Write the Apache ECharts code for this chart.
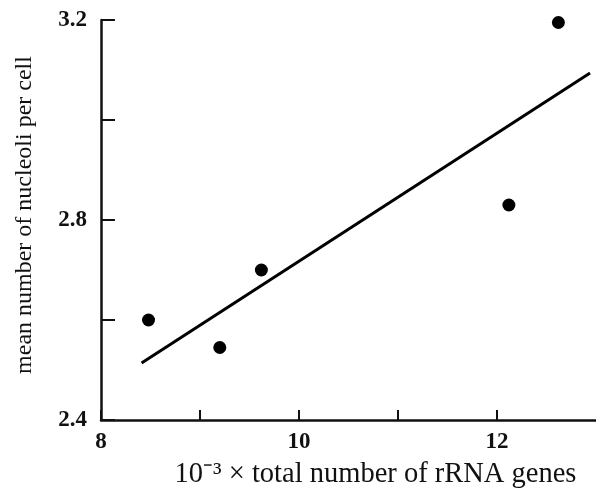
<!DOCTYPE html>
<html>
<head>
<meta charset="utf-8">
<script src="https://cdn.jsdelivr.net/npm/echarts@6/dist/echarts.min.js"></script>
<style>
  html, body { margin: 0; padding: 0; background: #fff; }
</style>
</head>
<body>
<div id="chart" style="width: 596px;height: 489px;"></div>
<script>
// rRNA genes (x 10^-3) vs mean nucleoli per cell
var genes = [8.48, 9.2, 9.62, 12.12, 12.62]
var nucleoli = [2.6, 2.545, 2.7, 2.83, 3.195]
// regression line end points
var fitX = [8.41, 12.94]
var fitY = [2.514, 3.094]
var xTicks = [8, 9, 10, 11, 12]
var xLabels = [8, 10, 12]
var yTicks = [2.4, 2.6, 2.8, 3.0, 3.2]
var yLabels = [2.4, 2.8, 3.2]

var font = 'Liberation Serif'

var chart = echarts.init(document.getElementById('chart'))
chart.setOption({
  animation: false,
  grid: {
    left: 101,
    right: 0,
    top: 20,
    bottom: 69,
    containLabel: false,
    outerBoundsMode: 'none'
  },
  xAxis: {
    type: 'value',
    min: 8,
    max: 13,
    interval: 1,
    name: '10⁻³ × total number of rRNA genes',
    nameLocation: 'middle',
    nameGap: 40,
    nameTextStyle: {
      fontFamily: font,
      fontSize: 28.5,
      color: '#111',
      padding: [0, 0, 0, 54]
    },
    axisLine: { lineStyle: { color: '#111', width: 2.5 } },
    axisTick: {
      inside: true,
      length: 10,
      customValues: xTicks,
      lineStyle: { color: '#111', width: 2 }
    },
    axisLabel: {
      margin: 11,
      color: '#111',
      fontFamily: font,
      fontSize: 23,
      fontWeight: 'bold',
      formatter: function(v) {
        return xLabels.indexOf(v) >= 0 ? String(v) : ''
      }
    },
    splitLine: { show: false }
  },
  yAxis: {
    type: 'value',
    min: 2.4,
    max: 3.2,
    interval: 0.2,
    name: 'mean number of nucleoli per cell',
    nameLocation: 'middle',
    nameGap: 64,
    nameTextStyle: {
      fontFamily: font,
      fontSize: 24,
      color: '#111',
      padding: [0, 0, 0, 10]
    },
    axisLine: { lineStyle: { color: '#111', width: 2.5 } },
    axisTick: {
      inside: true,
      length: 14,
      customValues: yTicks,
      lineStyle: { color: '#111', width: 2 }
    },
    axisLabel: {
      margin: 14,
      color: '#111',
      fontFamily: font,
      fontSize: 23,
      fontWeight: 'bold',
      formatter: function(v) {
        var r = Math.round(v * 10) / 10
        return yLabels.indexOf(r) >= 0 ? r.toFixed(1) : ''
      }
    },
    splitLine: { show: false }
  },
  series: [{
    type: 'line',
    data: fitX.map(function(x, i) { return [x, fitY[i]] }),
    showSymbol: false,
    lineStyle: { color: '#000', width: 3 },
    z: 2
  }, {
    type: 'scatter',
    data: genes.map(function(x, i) { return [x, nucleoli[i]] }),
    symbol: 'circle',
    symbolSize: 13,
    itemStyle: { color: '#000', opacity: 1 },
    z: 3
  }]
})
</script>
</body>
</html>
